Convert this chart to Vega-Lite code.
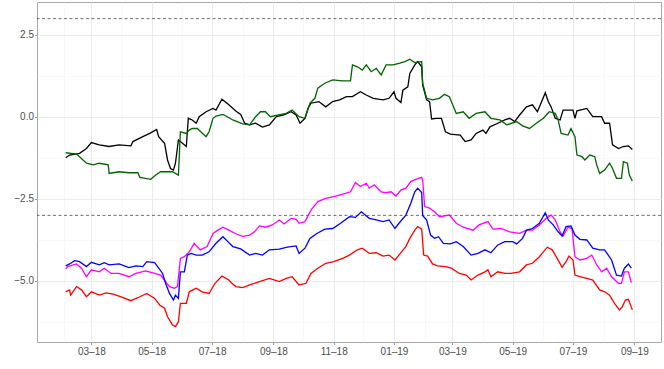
{
"$schema":"https://vega.github.io/schema/vega-lite/v6.json",
"width":624,"height":340,"autosize":"none",
"padding":{"left":37,"top":2,"right":3,"bottom":27},
"background":"white",
"config":{"view":{"stroke":"#a8a8a8","strokeWidth":1},"font":"Liberation Sans"},
"layer":[
{"data":{"values":[{"h":3},{"h":-3}]},
 "mark":{"type":"rule","color":"#333333","strokeDash":[3,2.5],"strokeWidth":0.7},
 "encoding":{"y":{"field":"h","type":"quantitative","title":null,"scale":{"domain":[-6.86,3.506],"nice":false,"zero":false}}}},
{"data":{"values":[
{"s":"k","d":"2018-02-03","v":-1.24},{"s":"k","d":"2018-02-07","v":-1.16},{"s":"k","d":"2018-02-17","v":-1.11},{"s":"k","d":"2018-02-24","v":-0.96},{"s":"k","d":"2018-03-01","v":-0.78},{"s":"k","d":"2018-03-09","v":-0.85},{"s":"k","d":"2018-03-19","v":-0.9},{"s":"k","d":"2018-03-29","v":-0.85},{"s":"k","d":"2018-04-10","v":-0.88},{"s":"k","d":"2018-04-12","v":-0.75},{"s":"k","d":"2018-04-22","v":-0.6},{"s":"k","d":"2018-04-29","v":-0.5},{"s":"k","d":"2018-05-06","v":-0.38},{"s":"k","d":"2018-05-08","v":-0.6},{"s":"k","d":"2018-05-14","v":-0.8},{"s":"k","d":"2018-05-17","v":-1.31},{"s":"k","d":"2018-05-20","v":-1.57},{"s":"k","d":"2018-05-23","v":-1.62},{"s":"k","d":"2018-05-25","v":-1.41},{"s":"k","d":"2018-05-28","v":-0.7},{"s":"k","d":"2018-05-30","v":-0.75},{"s":"k","d":"2018-06-05","v":-0.9},{"s":"k","d":"2018-06-07","v":-0.04},{"s":"k","d":"2018-06-11","v":-0.09},{"s":"k","d":"2018-06-15","v":-0.19},{"s":"k","d":"2018-06-18","v":0.01},{"s":"k","d":"2018-06-25","v":0.16},{"s":"k","d":"2018-07-02","v":0.26},{"s":"k","d":"2018-07-05","v":0.21},{"s":"k","d":"2018-07-11","v":0.54},{"s":"k","d":"2018-07-18","v":0.37},{"s":"k","d":"2018-07-25","v":0.18},{"s":"k","d":"2018-07-30","v":0.08},{"s":"k","d":"2018-08-03","v":-0.19},{"s":"k","d":"2018-08-08","v":-0.24},{"s":"k","d":"2018-08-14","v":-0.19},{"s":"k","d":"2018-08-21","v":-0.31},{"s":"k","d":"2018-08-28","v":-0.24},{"s":"k","d":"2018-09-04","v":0.01},{"s":"k","d":"2018-09-11","v":0.06},{"s":"k","d":"2018-09-19","v":0.16},{"s":"k","d":"2018-09-24","v":0.06},{"s":"k","d":"2018-09-28","v":-0.19},{"s":"k","d":"2018-10-03","v":-0.04},{"s":"k","d":"2018-10-06","v":0.26},{"s":"k","d":"2018-10-09","v":0.42},{"s":"k","d":"2018-10-17","v":0.47},{"s":"k","d":"2018-10-24","v":0.31},{"s":"k","d":"2018-10-31","v":0.47},{"s":"k","d":"2018-11-07","v":0.52},{"s":"k","d":"2018-11-14","v":0.62},{"s":"k","d":"2018-11-20","v":0.62},{"s":"k","d":"2018-11-28","v":0.77},{"s":"k","d":"2018-12-04","v":0.67},{"s":"k","d":"2018-12-11","v":0.57},{"s":"k","d":"2018-12-21","v":0.52},{"s":"k","d":"2018-12-27","v":0.57},{"s":"k","d":"2019-01-01","v":0.77},{"s":"k","d":"2019-01-03","v":0.57},{"s":"k","d":"2019-01-08","v":0.44},{"s":"k","d":"2019-01-10","v":0.82},{"s":"k","d":"2019-01-15","v":0.92},{"s":"k","d":"2019-01-17","v":1.33},{"s":"k","d":"2019-01-22","v":1.59},{"s":"k","d":"2019-01-25","v":1.69},{"s":"k","d":"2019-01-29","v":1.53},{"s":"k","d":"2019-01-30","v":0.97},{"s":"k","d":"2019-02-03","v":0.52},{"s":"k","d":"2019-02-06","v":0.47},{"s":"k","d":"2019-02-08","v":-0.06},{"s":"k","d":"2019-02-13","v":-0.04},{"s":"k","d":"2019-02-18","v":-0.04},{"s":"k","d":"2019-02-22","v":-0.45},{"s":"k","d":"2019-02-27","v":-0.52},{"s":"k","d":"2019-03-09","v":-0.55},{"s":"k","d":"2019-03-14","v":-0.75},{"s":"k","d":"2019-03-20","v":-0.7},{"s":"k","d":"2019-03-25","v":-0.5},{"s":"k","d":"2019-04-01","v":-0.4},{"s":"k","d":"2019-04-04","v":-0.5},{"s":"k","d":"2019-04-08","v":-0.3},{"s":"k","d":"2019-04-16","v":-0.19},{"s":"k","d":"2019-04-23","v":-0.09},{"s":"k","d":"2019-04-28","v":-0.04},{"s":"k","d":"2019-05-03","v":-0.14},{"s":"k","d":"2019-05-08","v":0.06},{"s":"k","d":"2019-05-15","v":0.31},{"s":"k","d":"2019-05-21","v":0.37},{"s":"k","d":"2019-05-26","v":0.16},{"s":"k","d":"2019-05-31","v":0.52},{"s":"k","d":"2019-06-03","v":0.74},{"s":"k","d":"2019-06-06","v":0.47},{"s":"k","d":"2019-06-09","v":0.3},{"s":"k","d":"2019-06-13","v":-0.04},{"s":"k","d":"2019-06-18","v":-0.09},{"s":"k","d":"2019-06-21","v":0.21},{"s":"k","d":"2019-07-01","v":0.21},{"s":"k","d":"2019-07-03","v":-0.04},{"s":"k","d":"2019-07-05","v":0.19},{"s":"k","d":"2019-07-11","v":0.23},{"s":"k","d":"2019-07-15","v":0.26},{"s":"k","d":"2019-07-21","v":0.01},{"s":"k","d":"2019-07-30","v":0.01},{"s":"k","d":"2019-08-02","v":-0.19},{"s":"k","d":"2019-08-07","v":-0.19},{"s":"k","d":"2019-08-10","v":-0.85},{"s":"k","d":"2019-08-16","v":-0.96},{"s":"k","d":"2019-08-21","v":-0.9},{"s":"k","d":"2019-08-26","v":-0.88},{"s":"k","d":"2019-08-30","v":-0.99},
{"s":"g","d":"2018-02-03","v":-1.09},{"s":"g","d":"2018-02-14","v":-1.13},{"s":"g","d":"2018-02-17","v":-1.21},{"s":"g","d":"2018-02-24","v":-1.41},{"s":"g","d":"2018-03-03","v":-1.46},{"s":"g","d":"2018-03-09","v":-1.41},{"s":"g","d":"2018-03-18","v":-1.46},{"s":"g","d":"2018-03-19","v":-1.72},{"s":"g","d":"2018-03-29","v":-1.67},{"s":"g","d":"2018-04-08","v":-1.7},{"s":"g","d":"2018-04-17","v":-1.7},{"s":"g","d":"2018-04-19","v":-1.84},{"s":"g","d":"2018-04-30","v":-1.9},{"s":"g","d":"2018-05-05","v":-1.77},{"s":"g","d":"2018-05-10","v":-1.67},{"s":"g","d":"2018-05-17","v":-1.67},{"s":"g","d":"2018-05-22","v":-1.67},{"s":"g","d":"2018-05-28","v":-1.77},{"s":"g","d":"2018-05-30","v":-0.45},{"s":"g","d":"2018-06-05","v":-0.5},{"s":"g","d":"2018-06-08","v":-0.4},{"s":"g","d":"2018-06-11","v":-0.35},{"s":"g","d":"2018-06-16","v":-0.35},{"s":"g","d":"2018-06-25","v":-0.6},{"s":"g","d":"2018-06-28","v":-0.45},{"s":"g","d":"2018-07-02","v":-0.04},{"s":"g","d":"2018-07-05","v":0.03},{"s":"g","d":"2018-07-12","v":0.08},{"s":"g","d":"2018-07-15","v":0.03},{"s":"g","d":"2018-07-22","v":-0.09},{"s":"g","d":"2018-08-01","v":-0.21},{"s":"g","d":"2018-08-08","v":-0.24},{"s":"g","d":"2018-08-14","v":0.01},{"s":"g","d":"2018-08-19","v":0.16},{"s":"g","d":"2018-08-24","v":0.16},{"s":"g","d":"2018-08-29","v":0.01},{"s":"g","d":"2018-09-05","v":0.06},{"s":"g","d":"2018-09-14","v":0.11},{"s":"g","d":"2018-09-20","v":0.21},{"s":"g","d":"2018-09-27","v":0.01},{"s":"g","d":"2018-10-03","v":-0.04},{"s":"g","d":"2018-10-08","v":0.42},{"s":"g","d":"2018-10-13","v":0.57},{"s":"g","d":"2018-10-16","v":0.88},{"s":"g","d":"2018-10-23","v":1.03},{"s":"g","d":"2018-10-31","v":1.13},{"s":"g","d":"2018-11-10","v":1.1},{"s":"g","d":"2018-11-18","v":1.1},{"s":"g","d":"2018-11-20","v":1.59},{"s":"g","d":"2018-11-25","v":1.53},{"s":"g","d":"2018-11-30","v":1.43},{"s":"g","d":"2018-12-04","v":1.59},{"s":"g","d":"2018-12-09","v":1.38},{"s":"g","d":"2018-12-14","v":1.48},{"s":"g","d":"2018-12-19","v":1.28},{"s":"g","d":"2018-12-24","v":1.59},{"s":"g","d":"2018-12-31","v":1.59},{"s":"g","d":"2019-01-07","v":1.64},{"s":"g","d":"2019-01-12","v":1.69},{"s":"g","d":"2019-01-17","v":1.76},{"s":"g","d":"2019-01-22","v":1.66},{"s":"g","d":"2019-01-29","v":1.69},{"s":"g","d":"2019-01-30","v":1.03},{"s":"g","d":"2019-02-03","v":0.57},{"s":"g","d":"2019-02-09","v":0.52},{"s":"g","d":"2019-02-16","v":0.57},{"s":"g","d":"2019-02-21","v":0.69},{"s":"g","d":"2019-02-26","v":0.62},{"s":"g","d":"2019-03-05","v":0.11},{"s":"g","d":"2019-03-12","v":0.16},{"s":"g","d":"2019-03-18","v":-0.04},{"s":"g","d":"2019-03-25","v":0.11},{"s":"g","d":"2019-04-03","v":0.16},{"s":"g","d":"2019-04-09","v":-0.04},{"s":"g","d":"2019-04-18","v":-0.09},{"s":"g","d":"2019-04-25","v":-0.24},{"s":"g","d":"2019-05-05","v":-0.14},{"s":"g","d":"2019-05-11","v":-0.27},{"s":"g","d":"2019-05-18","v":-0.35},{"s":"g","d":"2019-05-25","v":-0.19},{"s":"g","d":"2019-06-01","v":-0.04},{"s":"g","d":"2019-06-07","v":0.16},{"s":"g","d":"2019-06-13","v":0.11},{"s":"g","d":"2019-06-16","v":-0.09},{"s":"g","d":"2019-06-19","v":-0.5},{"s":"g","d":"2019-06-26","v":-0.55},{"s":"g","d":"2019-06-29","v":-0.35},{"s":"g","d":"2019-07-03","v":-0.6},{"s":"g","d":"2019-07-05","v":-1.16},{"s":"g","d":"2019-07-10","v":-1.21},{"s":"g","d":"2019-07-13","v":-1.31},{"s":"g","d":"2019-07-18","v":-1.16},{"s":"g","d":"2019-07-23","v":-1.21},{"s":"g","d":"2019-07-25","v":-1.46},{"s":"g","d":"2019-07-28","v":-1.72},{"s":"g","d":"2019-08-02","v":-1.62},{"s":"g","d":"2019-08-07","v":-1.41},{"s":"g","d":"2019-08-10","v":-1.57},{"s":"g","d":"2019-08-14","v":-1.87},{"s":"g","d":"2019-08-19","v":-1.87},{"s":"g","d":"2019-08-21","v":-1.36},{"s":"g","d":"2019-08-25","v":-1.41},{"s":"g","d":"2019-08-27","v":-1.77},{"s":"g","d":"2019-08-30","v":-1.95},
{"s":"m","d":"2018-02-03","v":-4.64},{"s":"m","d":"2018-02-05","v":-4.56},{"s":"m","d":"2018-02-14","v":-4.48},{"s":"m","d":"2018-02-19","v":-4.61},{"s":"m","d":"2018-02-24","v":-4.87},{"s":"m","d":"2018-03-01","v":-4.66},{"s":"m","d":"2018-03-09","v":-4.72},{"s":"m","d":"2018-03-14","v":-4.61},{"s":"m","d":"2018-03-21","v":-4.77},{"s":"m","d":"2018-03-29","v":-4.77},{"s":"m","d":"2018-04-08","v":-4.87},{"s":"m","d":"2018-04-15","v":-4.77},{"s":"m","d":"2018-04-25","v":-4.69},{"s":"m","d":"2018-05-04","v":-4.77},{"s":"m","d":"2018-05-10","v":-4.82},{"s":"m","d":"2018-05-15","v":-5.02},{"s":"m","d":"2018-05-19","v":-5.17},{"s":"m","d":"2018-05-24","v":-5.22},{"s":"m","d":"2018-05-27","v":-5.17},{"s":"m","d":"2018-05-30","v":-4.31},{"s":"m","d":"2018-06-03","v":-4.26},{"s":"m","d":"2018-06-08","v":-4.11},{"s":"m","d":"2018-06-13","v":-3.85},{"s":"m","d":"2018-06-19","v":-4.05},{"s":"m","d":"2018-06-26","v":-3.95},{"s":"m","d":"2018-07-02","v":-3.55},{"s":"m","d":"2018-07-07","v":-3.45},{"s":"m","d":"2018-07-12","v":-3.36},{"s":"m","d":"2018-07-18","v":-3.45},{"s":"m","d":"2018-07-25","v":-3.56},{"s":"m","d":"2018-08-01","v":-3.64},{"s":"m","d":"2018-08-08","v":-3.6},{"s":"m","d":"2018-08-13","v":-3.5},{"s":"m","d":"2018-08-18","v":-3.32},{"s":"m","d":"2018-08-24","v":-3.36},{"s":"m","d":"2018-08-31","v":-3.29},{"s":"m","d":"2018-09-07","v":-3.14},{"s":"m","d":"2018-09-12","v":-3.26},{"s":"m","d":"2018-09-19","v":-3.09},{"s":"m","d":"2018-09-24","v":-3.12},{"s":"m","d":"2018-09-27","v":-3.24},{"s":"m","d":"2018-10-03","v":-3.19},{"s":"m","d":"2018-10-09","v":-2.84},{"s":"m","d":"2018-10-16","v":-2.58},{"s":"m","d":"2018-10-24","v":-2.48},{"s":"m","d":"2018-11-03","v":-2.41},{"s":"m","d":"2018-11-13","v":-2.33},{"s":"m","d":"2018-11-18","v":-2.28},{"s":"m","d":"2018-11-23","v":-2.0},{"s":"m","d":"2018-11-28","v":-2.12},{"s":"m","d":"2018-12-04","v":-2.02},{"s":"m","d":"2018-12-07","v":-2.17},{"s":"m","d":"2018-12-12","v":-2.07},{"s":"m","d":"2018-12-19","v":-2.28},{"s":"m","d":"2018-12-24","v":-2.31},{"s":"m","d":"2018-12-29","v":-2.28},{"s":"m","d":"2019-01-03","v":-2.41},{"s":"m","d":"2019-01-08","v":-2.23},{"s":"m","d":"2019-01-13","v":-2.17},{"s":"m","d":"2019-01-18","v":-1.97},{"s":"m","d":"2019-01-23","v":-1.9},{"s":"m","d":"2019-01-29","v":-1.84},{"s":"m","d":"2019-01-30","v":-1.92},{"s":"m","d":"2019-02-01","v":-2.73},{"s":"m","d":"2019-02-06","v":-2.78},{"s":"m","d":"2019-02-11","v":-2.89},{"s":"m","d":"2019-02-16","v":-3.04},{"s":"m","d":"2019-02-26","v":-2.99},{"s":"m","d":"2019-03-05","v":-3.24},{"s":"m","d":"2019-03-12","v":-3.36},{"s":"m","d":"2019-03-22","v":-3.45},{"s":"m","d":"2019-03-28","v":-3.29},{"s":"m","d":"2019-04-06","v":-3.19},{"s":"m","d":"2019-04-11","v":-3.42},{"s":"m","d":"2019-04-19","v":-3.4},{"s":"m","d":"2019-04-28","v":-3.5},{"s":"m","d":"2019-05-08","v":-3.55},{"s":"m","d":"2019-05-15","v":-3.45},{"s":"m","d":"2019-05-21","v":-3.45},{"s":"m","d":"2019-05-28","v":-3.29},{"s":"m","d":"2019-06-04","v":-3.09},{"s":"m","d":"2019-06-09","v":-2.99},{"s":"m","d":"2019-06-13","v":-3.14},{"s":"m","d":"2019-06-18","v":-3.5},{"s":"m","d":"2019-06-21","v":-3.63},{"s":"m","d":"2019-06-26","v":-3.36},{"s":"m","d":"2019-06-30","v":-3.4},{"s":"m","d":"2019-07-03","v":-4.26},{"s":"m","d":"2019-07-08","v":-4.36},{"s":"m","d":"2019-07-15","v":-4.31},{"s":"m","d":"2019-07-20","v":-4.21},{"s":"m","d":"2019-07-25","v":-4.51},{"s":"m","d":"2019-07-30","v":-4.72},{"s":"m","d":"2019-08-04","v":-4.61},{"s":"m","d":"2019-08-09","v":-4.87},{"s":"m","d":"2019-08-16","v":-5.07},{"s":"m","d":"2019-08-19","v":-5.07},{"s":"m","d":"2019-08-22","v":-4.72},{"s":"m","d":"2019-08-26","v":-4.72},{"s":"m","d":"2019-08-29","v":-5.05},
{"s":"b","d":"2018-02-03","v":-4.54},{"s":"b","d":"2018-02-07","v":-4.48},{"s":"b","d":"2018-02-12","v":-4.38},{"s":"b","d":"2018-02-17","v":-4.41},{"s":"b","d":"2018-02-24","v":-4.56},{"s":"b","d":"2018-03-01","v":-4.43},{"s":"b","d":"2018-03-09","v":-4.51},{"s":"b","d":"2018-03-14","v":-4.44},{"s":"b","d":"2018-03-19","v":-4.51},{"s":"b","d":"2018-03-29","v":-4.48},{"s":"b","d":"2018-04-08","v":-4.59},{"s":"b","d":"2018-04-15","v":-4.54},{"s":"b","d":"2018-04-22","v":-4.56},{"s":"b","d":"2018-04-26","v":-4.41},{"s":"b","d":"2018-05-04","v":-4.44},{"s":"b","d":"2018-05-07","v":-4.56},{"s":"b","d":"2018-05-12","v":-4.77},{"s":"b","d":"2018-05-15","v":-5.07},{"s":"b","d":"2018-05-19","v":-5.38},{"s":"b","d":"2018-05-23","v":-5.58},{"s":"b","d":"2018-05-25","v":-5.43},{"s":"b","d":"2018-05-28","v":-5.53},{"s":"b","d":"2018-05-30","v":-4.72},{"s":"b","d":"2018-06-03","v":-4.72},{"s":"b","d":"2018-06-06","v":-4.21},{"s":"b","d":"2018-06-10","v":-4.16},{"s":"b","d":"2018-06-15","v":-4.21},{"s":"b","d":"2018-06-21","v":-4.21},{"s":"b","d":"2018-06-28","v":-4.11},{"s":"b","d":"2018-07-05","v":-3.85},{"s":"b","d":"2018-07-12","v":-3.65},{"s":"b","d":"2018-07-17","v":-3.8},{"s":"b","d":"2018-07-22","v":-3.95},{"s":"b","d":"2018-07-30","v":-4.02},{"s":"b","d":"2018-08-08","v":-4.21},{"s":"b","d":"2018-08-14","v":-4.16},{"s":"b","d":"2018-08-21","v":-4.21},{"s":"b","d":"2018-08-28","v":-4.05},{"s":"b","d":"2018-09-07","v":-4.03},{"s":"b","d":"2018-09-15","v":-3.97},{"s":"b","d":"2018-09-24","v":-3.93},{"s":"b","d":"2018-09-27","v":-4.16},{"s":"b","d":"2018-10-03","v":-4.0},{"s":"b","d":"2018-10-08","v":-3.7},{"s":"b","d":"2018-10-15","v":-3.55},{"s":"b","d":"2018-10-23","v":-3.42},{"s":"b","d":"2018-10-31","v":-3.4},{"s":"b","d":"2018-11-08","v":-3.24},{"s":"b","d":"2018-11-17","v":-3.04},{"s":"b","d":"2018-11-23","v":-3.06},{"s":"b","d":"2018-11-29","v":-2.89},{"s":"b","d":"2018-12-07","v":-3.09},{"s":"b","d":"2018-12-14","v":-3.14},{"s":"b","d":"2018-12-21","v":-3.19},{"s":"b","d":"2018-12-27","v":-3.14},{"s":"b","d":"2019-01-02","v":-3.4},{"s":"b","d":"2019-01-06","v":-3.24},{"s":"b","d":"2019-01-13","v":-2.99},{"s":"b","d":"2019-01-18","v":-2.63},{"s":"b","d":"2019-01-22","v":-2.28},{"s":"b","d":"2019-01-25","v":-2.17},{"s":"b","d":"2019-01-29","v":-2.3},{"s":"b","d":"2019-01-30","v":-3.0},{"s":"b","d":"2019-02-03","v":-3.14},{"s":"b","d":"2019-02-07","v":-3.6},{"s":"b","d":"2019-02-11","v":-3.7},{"s":"b","d":"2019-02-15","v":-3.65},{"s":"b","d":"2019-02-20","v":-3.85},{"s":"b","d":"2019-02-27","v":-3.87},{"s":"b","d":"2019-03-05","v":-3.8},{"s":"b","d":"2019-03-12","v":-3.95},{"s":"b","d":"2019-03-20","v":-4.21},{"s":"b","d":"2019-03-27","v":-4.16},{"s":"b","d":"2019-04-03","v":-4.05},{"s":"b","d":"2019-04-09","v":-4.14},{"s":"b","d":"2019-04-16","v":-3.9},{"s":"b","d":"2019-04-23","v":-3.8},{"s":"b","d":"2019-05-01","v":-3.8},{"s":"b","d":"2019-05-05","v":-3.87},{"s":"b","d":"2019-05-11","v":-3.7},{"s":"b","d":"2019-05-15","v":-3.45},{"s":"b","d":"2019-05-21","v":-3.4},{"s":"b","d":"2019-05-28","v":-3.24},{"s":"b","d":"2019-06-03","v":-2.92},{"s":"b","d":"2019-06-06","v":-3.14},{"s":"b","d":"2019-06-11","v":-3.29},{"s":"b","d":"2019-06-16","v":-3.5},{"s":"b","d":"2019-06-20","v":-3.63},{"s":"b","d":"2019-06-24","v":-3.34},{"s":"b","d":"2019-06-29","v":-3.32},{"s":"b","d":"2019-07-03","v":-3.6},{"s":"b","d":"2019-07-08","v":-3.73},{"s":"b","d":"2019-07-15","v":-3.75},{"s":"b","d":"2019-07-21","v":-4.0},{"s":"b","d":"2019-07-28","v":-4.05},{"s":"b","d":"2019-08-02","v":-4.05},{"s":"b","d":"2019-08-09","v":-4.36},{"s":"b","d":"2019-08-14","v":-4.82},{"s":"b","d":"2019-08-19","v":-4.85},{"s":"b","d":"2019-08-22","v":-4.61},{"s":"b","d":"2019-08-26","v":-4.48},{"s":"b","d":"2019-08-29","v":-4.61},
{"s":"r","d":"2018-02-03","v":-5.33},{"s":"r","d":"2018-02-07","v":-5.27},{"s":"r","d":"2018-02-08","v":-5.43},{"s":"r","d":"2018-02-14","v":-5.17},{"s":"r","d":"2018-02-19","v":-5.27},{"s":"r","d":"2018-02-24","v":-5.48},{"s":"r","d":"2018-03-01","v":-5.33},{"s":"r","d":"2018-03-09","v":-5.43},{"s":"r","d":"2018-03-16","v":-5.36},{"s":"r","d":"2018-03-23","v":-5.4},{"s":"r","d":"2018-03-29","v":-5.46},{"s":"r","d":"2018-04-10","v":-5.6},{"s":"r","d":"2018-04-19","v":-5.48},{"s":"r","d":"2018-04-26","v":-5.38},{"s":"r","d":"2018-05-04","v":-5.53},{"s":"r","d":"2018-05-09","v":-5.73},{"s":"r","d":"2018-05-14","v":-5.83},{"s":"r","d":"2018-05-17","v":-6.09},{"s":"r","d":"2018-05-22","v":-6.34},{"s":"r","d":"2018-05-25","v":-6.39},{"s":"r","d":"2018-05-28","v":-6.24},{"s":"r","d":"2018-05-30","v":-5.68},{"s":"r","d":"2018-06-05","v":-5.68},{"s":"r","d":"2018-06-08","v":-5.33},{"s":"r","d":"2018-06-15","v":-5.22},{"s":"r","d":"2018-06-21","v":-5.33},{"s":"r","d":"2018-06-28","v":-5.38},{"s":"r","d":"2018-07-04","v":-5.07},{"s":"r","d":"2018-07-11","v":-4.85},{"s":"r","d":"2018-07-18","v":-4.97},{"s":"r","d":"2018-07-21","v":-5.07},{"s":"r","d":"2018-07-25","v":-5.17},{"s":"r","d":"2018-08-01","v":-5.2},{"s":"r","d":"2018-08-08","v":-5.12},{"s":"r","d":"2018-08-18","v":-5.02},{"s":"r","d":"2018-08-28","v":-4.92},{"s":"r","d":"2018-09-07","v":-5.02},{"s":"r","d":"2018-09-14","v":-4.92},{"s":"r","d":"2018-09-20","v":-4.87},{"s":"r","d":"2018-09-27","v":-5.12},{"s":"r","d":"2018-10-04","v":-5.07},{"s":"r","d":"2018-10-09","v":-4.77},{"s":"r","d":"2018-10-16","v":-4.61},{"s":"r","d":"2018-10-24","v":-4.46},{"s":"r","d":"2018-11-01","v":-4.41},{"s":"r","d":"2018-11-10","v":-4.31},{"s":"r","d":"2018-11-17","v":-4.21},{"s":"r","d":"2018-11-25","v":-4.05},{"s":"r","d":"2018-11-30","v":-4.0},{"s":"r","d":"2018-12-07","v":-4.16},{"s":"r","d":"2018-12-14","v":-4.14},{"s":"r","d":"2018-12-21","v":-4.24},{"s":"r","d":"2018-12-27","v":-4.21},{"s":"r","d":"2019-01-02","v":-4.36},{"s":"r","d":"2019-01-06","v":-4.21},{"s":"r","d":"2019-01-13","v":-3.95},{"s":"r","d":"2019-01-17","v":-3.7},{"s":"r","d":"2019-01-22","v":-3.45},{"s":"r","d":"2019-01-25","v":-3.34},{"s":"r","d":"2019-01-29","v":-3.42},{"s":"r","d":"2019-01-31","v":-4.21},{"s":"r","d":"2019-02-04","v":-4.24},{"s":"r","d":"2019-02-09","v":-4.48},{"s":"r","d":"2019-02-14","v":-4.54},{"s":"r","d":"2019-02-22","v":-4.56},{"s":"r","d":"2019-02-28","v":-4.61},{"s":"r","d":"2019-03-08","v":-4.77},{"s":"r","d":"2019-03-15","v":-4.82},{"s":"r","d":"2019-03-20","v":-4.97},{"s":"r","d":"2019-03-27","v":-4.82},{"s":"r","d":"2019-04-03","v":-4.72},{"s":"r","d":"2019-04-06","v":-4.66},{"s":"r","d":"2019-04-09","v":-4.87},{"s":"r","d":"2019-04-16","v":-4.72},{"s":"r","d":"2019-04-23","v":-4.77},{"s":"r","d":"2019-04-29","v":-4.77},{"s":"r","d":"2019-05-08","v":-4.72},{"s":"r","d":"2019-05-15","v":-4.51},{"s":"r","d":"2019-05-21","v":-4.46},{"s":"r","d":"2019-05-28","v":-4.26},{"s":"r","d":"2019-06-05","v":-3.97},{"s":"r","d":"2019-06-10","v":-4.05},{"s":"r","d":"2019-06-15","v":-4.31},{"s":"r","d":"2019-06-20","v":-4.58},{"s":"r","d":"2019-06-24","v":-4.41},{"s":"r","d":"2019-06-27","v":-4.24},{"s":"r","d":"2019-07-01","v":-4.36},{"s":"r","d":"2019-07-03","v":-4.82},{"s":"r","d":"2019-07-08","v":-4.87},{"s":"r","d":"2019-07-15","v":-4.92},{"s":"r","d":"2019-07-21","v":-4.97},{"s":"r","d":"2019-07-28","v":-5.27},{"s":"r","d":"2019-08-02","v":-5.33},{"s":"r","d":"2019-08-07","v":-5.43},{"s":"r","d":"2019-08-12","v":-5.68},{"s":"r","d":"2019-08-17","v":-5.88},{"s":"r","d":"2019-08-20","v":-5.78},{"s":"r","d":"2019-08-23","v":-5.58},{"s":"r","d":"2019-08-26","v":-5.56},{"s":"r","d":"2019-08-30","v":-5.88}
]},
 "mark":{"type":"line","strokeWidth":1.3},
 "encoding":{
  "x":{"field":"d","type":"temporal",
   "scale":{"type":"utc","domain":[{"year":2018,"month":1,"date":5,"utc":true},{"year":2019,"month":9,"date":28,"utc":true}],"nice":false},
   "axis":{"title":null,"domain":false,"labelFont":"Liberation Sans","labelFontSize":10,"labelColor":"#4d4d4d","labelPadding":1.5,"tickSize":2.5,
    "tickColor":{"condition":{"test":"utcmonth(datum.value) % 2 == 0","value":"#999999"},"value":"rgba(0,0,0,0)"},
    "gridColor":{"condition":{"test":"utcmonth(datum.value) % 2 == 0","value":"#ebebeb"},"value":"#f4f4f4"},
    "gridWidth":{"condition":{"test":"utcmonth(datum.value) % 2 == 0","value":1},"value":0.6},
    "labelExpr":"utcmonth(datum.value) % 2 == 0 ? utcFormat(datum.value, '%m–%y') : ''",
    "labelFlush":false,"labelOverlap":false,
    "values":[{"year":2018,"month":2,"date":1,"utc":true},{"year":2018,"month":3,"date":1,"utc":true},{"year":2018,"month":4,"date":1,"utc":true},{"year":2018,"month":5,"date":1,"utc":true},{"year":2018,"month":6,"date":1,"utc":true},{"year":2018,"month":7,"date":1,"utc":true},{"year":2018,"month":8,"date":1,"utc":true},{"year":2018,"month":9,"date":1,"utc":true},{"year":2018,"month":10,"date":1,"utc":true},{"year":2018,"month":11,"date":1,"utc":true},{"year":2018,"month":12,"date":1,"utc":true},{"year":2019,"month":1,"date":1,"utc":true},{"year":2019,"month":2,"date":1,"utc":true},{"year":2019,"month":3,"date":1,"utc":true},{"year":2019,"month":4,"date":1,"utc":true},{"year":2019,"month":5,"date":1,"utc":true},{"year":2019,"month":6,"date":1,"utc":true},{"year":2019,"month":7,"date":1,"utc":true},{"year":2019,"month":8,"date":1,"utc":true},{"year":2019,"month":9,"date":1,"utc":true}]}},
  "y":{"field":"v","type":"quantitative",
   "scale":{"domain":[-6.86,3.506],"nice":false,"zero":false},
   "axis":{"title":null,"domain":false,"labelFont":"Liberation Sans","labelFontSize":10,"labelColor":"#4d4d4d","labelPadding":1,"tickSize":2.5,
    "values":[-6.25,-5,-3.75,-2.5,-1.25,0,1.25,2.5],
    "labelExpr":"datum.value % 2.5 == 0 ? format(datum.value, '.1f') : ''",
    "labelFlush":false,"labelOverlap":false,
    "tickColor":{"condition":{"test":"datum.value % 2.5 == 0","value":"#999999"},"value":"rgba(0,0,0,0)"},
    "gridColor":{"condition":{"test":"datum.value % 2.5 == 0","value":"#ebebeb"},"value":"#f4f4f4"},
    "gridWidth":{"condition":{"test":"datum.value % 2.5 == 0","value":1},"value":0.6}}},
  "color":{"field":"s","type":"nominal","legend":null,
   "scale":{"domain":["k","g","m","b","r"],"range":["#000000","#006400","#ff00ff","#0000ff","#ff0000"]}}
 }}
]
}
